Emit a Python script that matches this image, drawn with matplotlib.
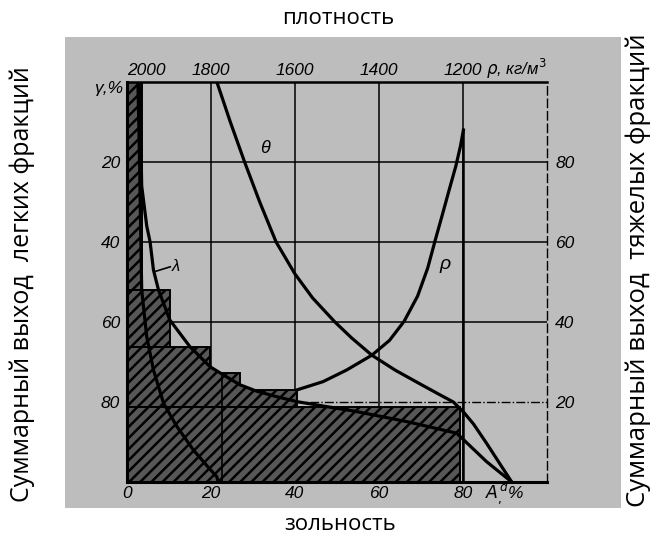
import matplotlib
matplotlib.use('Agg')
import matplotlib.pyplot as plt
import numpy as np
from matplotlib.patches import Rectangle

plt.rcParams['hatch.linewidth'] = 1.8
plt.rcParams['hatch.color'] = 'black'

NUM_FONT = ['Liberation Sans', 'DejaVu Sans']
TXT_FONT = ['Open Sans', 'DejaVu Sans']

# ---------------- data ----------------
ash_ticks = [0, 20, 40, 60, 80]
light_ticks = [20, 40, 60, 80]
heavy_ticks = [80, 60, 40, 20]
density_ticks = [2000, 1800, 1600, 1400, 1200]

# elementary fractions: yield boundaries (%) and ash (%)
frac_yield_edges = [0, 52, 66.3, 72.7, 77, 81.2, 100]
frac_ash = [3.5, 10.2, 19.8, 27, 40.4, 79.3]

# lambda curve (elementary ash)
lam_A = [2.9, 3.3, 3.5, 4.7, 5.5, 6.3, 7.5, 10.2, 15.0, 19.8, 22.9, 26.9, 30.9,
         35.0, 40.4, 54.7, 66.6, 78.5, 85.6, 91.6]
lam_g = [0, 15, 26, 36, 40, 47, 52, 59.5, 66.2, 71.2, 73.2, 75.7, 77.3,
         78.5, 79.9, 82.4, 84.9, 87.8, 94.9, 100]

# beta curve (cumulative ash of floats)
beta_A = [2.6, 3.0, 3.3, 3.5, 4.7, 6.3, 8.7, 11.8, 15.8, 19.5, 21.4, 21.7]
beta_g = [0, 20, 40, 52, 63.7, 72, 80.3, 86, 92, 96.5, 98.7, 100]

# theta curve (cumulative ash of sinks)
theta_A = [21.4, 24.6, 28.0, 31.6, 35.5, 40.0, 44.2, 49.5, 53.5, 58.3, 63.8,
           69.8, 74.5, 77.7, 80.2, 82.5, 85.6, 88.5, 91.6]
theta_g = [0, 10, 20, 30, 40, 48, 54, 60, 64, 68.3, 72, 75.5, 78.2, 80.0,
           82.6, 85.5, 90.3, 95, 100]

# rho curve (density, kg/m3)
rho_val = [1199, 1206, 1217, 1233, 1250, 1266, 1284, 1308, 1340, 1375, 1417,
           1477, 1533, 1596]
rho_g = [12, 16, 21, 27, 33.5, 39.5, 46.5, 53.5, 59.8, 64.6, 68.3, 72, 74.9, 77]


def rho_to_A(r):
    return (2000 - np.asarray(r, dtype=float)) / 10.0


def A_to_rho(a):
    return 2000 - 10.0 * np.asarray(a, dtype=float)


# ---------------- figure ----------------
W, H = 653, 539
fig = plt.figure(figsize=(W / 100, H / 100), dpi=100)
bg = Rectangle((65 / W, 1 - 508 / H), (621 - 65) / W, (508 - 37) / H,
               transform=fig.transFigure, facecolor='#bdbdbd',
               edgecolor='none', zorder=-10)
fig.add_artist(bg)

ax = fig.add_axes([127 / W, 1 - 482 / H, 420 / W, 400 / H])
ax.set_zorder(5)
ax.set_facecolor('none')
ax.set_xlim(0, 100)
ax.set_ylim(100, 0)

# grid
for a in [20, 40, 60, 80]:
    ax.axvline(a, color='black', lw=1.1, zorder=1)
for g in [20, 40, 60]:
    ax.axhline(g, color='black', lw=1.1, zorder=1)
ax.plot([40, 100], [80, 80], color='black', lw=1.0, ls='-.', zorder=1)
ax.plot([80, 80], [12, 100], color='black', lw=1.8, zorder=1)

# hatched fractions
HATCH_FC = '#575757'
tops = frac_yield_edges[:-1]
heights = np.diff(frac_yield_edges)
ax.barh(tops, frac_ash, height=heights, left=0, align='edge',
        facecolor=HATCH_FC, edgecolor='black', hatch='///', lw=1.4, zorder=2)
lam_A_arr = np.array(lam_A)
lam_g_arr = np.array(lam_g)
m = (lam_g_arr >= 71.2) & (lam_g_arr <= 77.3)
ax.fill_betweenx(lam_g_arr[m], 0, lam_A_arr[m], facecolor=HATCH_FC,
                 edgecolor='black', hatch='///', lw=0, zorder=2)
ax.plot([22.5, 22.5], [72.7, 100], color='black', lw=1.2, zorder=3)

# curves
LW = 2.3
ax.plot(lam_A, lam_g, color='black', lw=LW, zorder=4, solid_joinstyle='round')
ax.plot(beta_A, beta_g, color='black', lw=LW, zorder=4, solid_joinstyle='round')
ax.plot(theta_A, theta_g, color='black', lw=LW, zorder=4, solid_joinstyle='round')
ax.plot(rho_to_A(rho_val), rho_g, color='black', lw=LW, zorder=4, solid_joinstyle='round')

# curve labels
ax.text(32.9, 16.5, 'θ', fontsize=13, style='italic', ha='center', va='center',
        family=NUM_FONT, zorder=5)
ax.text(75.7, 45.7, 'ρ', fontsize=14, style='italic', ha='center', va='center',
        family=NUM_FONT, zorder=5)
ax.text(11.6, 46.2, 'λ', fontsize=12, style='italic', ha='center', va='center',
        family=NUM_FONT, zorder=5)
ax.plot([6.6, 10.3], [47.4, 46.2], color='black', lw=1.2, zorder=5)

# spines
ax.spines['left'].set_linewidth(2.2)
ax.spines['bottom'].set_linewidth(2.2)
ax.spines['top'].set_linewidth(1.8)
ax.spines['right'].set_linewidth(1.0)
ax.spines['right'].set_linestyle((0, (6, 3)))
for s in ax.spines.values():
    s.set_zorder(6)

TICK_FS = 12.5
# bottom / left ticks
ax.set_xticks(ash_ticks)
ax.set_xticklabels([str(t) for t in ash_ticks])
ax.set_yticks(light_ticks)
ax.set_yticklabels([str(t) for t in light_ticks])
ax.tick_params(length=0, labelsize=TICK_FS)
ax.tick_params(axis='x', pad=3)
ax.tick_params(axis='y', pad=5)
for lab in ax.get_xticklabels() + ax.get_yticklabels():
    lab.set_family(NUM_FONT)
    lab.set_style('italic')

# top density axis
secx = ax.secondary_xaxis('top', functions=(A_to_rho, rho_to_A))
secx.set_xticks(density_ticks)
secx.set_xticklabels([str(t) for t in density_ticks])
secx.tick_params(length=0, labelsize=TICK_FS, pad=3)
secx.spines['top'].set_visible(False)
for lab in secx.get_xticklabels():
    lab.set_family(NUM_FONT)
    lab.set_style('italic')
secx.get_xticklabels()[0].set_horizontalalignment('left')

# right heavy-fraction axis
secy = ax.secondary_yaxis('right', functions=(lambda g: 100 - np.asarray(g), lambda h: 100 - np.asarray(h)))
secy.set_yticks(heavy_ticks)
secy.set_yticklabels([str(t) for t in heavy_ticks])
secy.tick_params(length=0, labelsize=TICK_FS, pad=6)
secy.spines['right'].set_visible(False)
for lab in secy.get_yticklabels():
    lab.set_family(NUM_FONT)
    lab.set_style('italic')

# axis unit labels
ax.text(-1.0, 1.5, 'γ,%', fontsize=TICK_FS, style='italic', family=NUM_FONT,
        ha='right', va='center', clip_on=False)
ax.text(85.2, 102.6, r'$A^{d}_{,}$%', fontsize=TICK_FS, style='italic', family=NUM_FONT,
        ha='left', va='center', clip_on=False)
ax.text(85.5, -3.2, r'$\rho$, кг/м$^3$', fontsize=12, style='italic', family=NUM_FONT,
        ha='left', va='center', clip_on=False)

# outer titles
fig.text(338 / W, 1 - 18 / H, 'плотность', ha='center', va='center', fontsize=16,
         family=TXT_FONT)
fig.text(340 / W, 1 - 525 / H, 'зольность', ha='center', va='center', fontsize=16,
         family=TXT_FONT)
fig.text(22 / W, 1 - 284 / H, 'Суммарный выход  легких фракций', rotation=90,
         ha='center', va='center', fontsize=18, family=TXT_FONT)
fig.text(638 / W, 1 - 270 / H, 'Суммарный выход  тяжелых фракций', rotation=90,
         ha='center', va='center', fontsize=18.5, family=TXT_FONT)

fig.savefig('out.png', dpi=100, facecolor='white')
